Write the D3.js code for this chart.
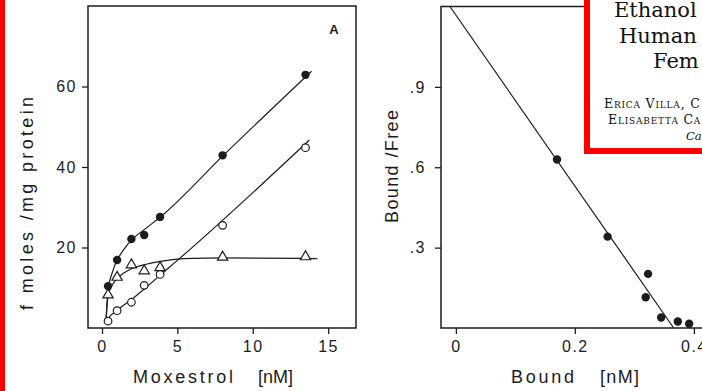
<!DOCTYPE html>
<html>
<head>
<meta charset="utf-8">
<script src="https://cdn.jsdelivr.net/npm/d3@7/dist/d3.min.js"></script>
<style>
  html, body { margin: 0; padding: 0; background: #fff; }
  svg { display: block; }
</style>
</head>
<body>
<svg id="fig" width="702" height="391"></svg>
<script>
// Panel A: moxestrol binding (fmol/mg protein) vs free moxestrol concentration
const moxestrolNM   = [0.4, 1.0, 1.95, 2.8, 3.85, 8.0, 13.5];
const totalBound    = [10.4, 16.9, 22.1, 23.1, 27.6, 42.9, 62.9];
const nonspecific   = [1.7, 4.3, 6.4, 10.6, 13.3, 25.5, 44.8];
const specific      = [8.2, 12.6, 15.7, 14.2, 15.0, 17.6, 17.7];

// hand-drawn fitted curves through panel A
const totalCurveX   = [0.27, 0.4, 0.7, 1.0, 1.5, 2.0, 3.0, 4.0, 8.0, 13.9];
const totalCurveY   = [2.0, 9.5, 14.0, 16.8, 19.8, 22.0, 25.0, 28.0, 42.7, 63.8];
const nonspecCurveX = [0.27, 0.4, 1.0, 2.0, 3.0, 4.0, 5.0, 13.76];
const nonspecCurveY = [1.0, 2.2, 4.4, 7.2, 10.3, 13.6, 16.8, 46.7];
const specCurveX    = [0.27, 0.4, 0.7, 1.0, 1.5, 2.0, 3.0, 4.0, 5.0, 6.0, 8.0, 13.5, 14.3];
const specCurveY    = [2.0, 8.0, 10.8, 12.3, 13.8, 14.8, 15.9, 16.6, 17.1, 17.3, 17.4, 17.3, 17.2];

const ticksAX = [0, 5, 10, 15];
const ticksAY = [20, 40, 60];

// Scatchard plot: bound/free vs bound
const boundNM       = [0.170, 0.255, 0.323, 0.319, 0.345, 0.373, 0.392];
const boundFree     = [0.629, 0.341, 0.202, 0.115, 0.039, 0.024, 0.016];
const scatFitX      = [-0.01, 0.366];
const scatFitY      = [1.2, 0.0];

const ticksBX = [0, 0.2, 0.4];
const ticksBY = [0.3, 0.6, 0.9];

const ink = "#1c1c1c";
const svg = d3.select("#fig");

svg.append("rect").attr("width", 702).attr("height", 391).attr("fill", "#fff");

// ---------- panel A ----------
const xA = d3.scaleLinear().domain([-0.93, 16.85]).range([88, 356]);
const yA = d3.scaleLinear().domain([0, 80]).range([328, 6]);

function styleAxis(g) {
  g.select(".domain").remove();
  g.selectAll(".tick line").attr("stroke", ink).attr("stroke-width", 1.3);
  g.selectAll(".tick text")
    .attr("fill", ink)
    .attr("font-family", "Liberation Sans, Arial, sans-serif")
    .attr("font-size", 16)
    .attr("letter-spacing", "1.5px");
}

const pA = svg.append("g");

pA.append("g")
  .attr("transform", `translate(0,${yA.range()[0]})`)
  .call(d3.axisBottom(xA).tickValues(ticksAX).tickSize(6).tickPadding(7).tickFormat(d3.format("d")))
  .call(styleAxis);

pA.append("g")
  .attr("transform", `translate(${xA.range()[0]},0)`)
  .call(d3.axisLeft(yA).tickValues(ticksAY).tickSize(6).tickPadding(5).tickFormat(d3.format("d")))
  .call(styleAxis);

// frame
pA.append("rect")
  .attr("x", xA.range()[0]).attr("y", yA.range()[1])
  .attr("width", xA.range()[1] - xA.range()[0])
  .attr("height", yA.range()[0] - yA.range()[1])
  .attr("fill", "none").attr("stroke", ink).attr("stroke-width", 1.5);

const lineA = d3.line().x(d => xA(d[0])).y(d => yA(d[1])).curve(d3.curveMonotoneX);
[[totalCurveX, totalCurveY], [nonspecCurveX, nonspecCurveY], [specCurveX, specCurveY]].forEach(([xs, ys]) => {
  pA.append("path")
    .attr("d", lineA(d3.zip(xs, ys)))
    .attr("fill", "none").attr("stroke", ink).attr("stroke-width", 1.2);
});

const ptsTotal = d3.zip(moxestrolNM, totalBound);
const ptsNon   = d3.zip(moxestrolNM, nonspecific);
const ptsSpec  = d3.zip(moxestrolNM, specific);

pA.selectAll(".tri").data(ptsSpec).join("path")
  .attr("transform", d => `translate(${xA(d[0])},${yA(d[1])})`)
  .attr("d", d3.symbol(d3.symbolTriangle, 46))
  .attr("fill", "#fff").attr("stroke", ink).attr("stroke-width", 1.2);

pA.selectAll(".open").data(ptsNon).join("circle")
  .attr("cx", d => xA(d[0])).attr("cy", d => yA(d[1])).attr("r", 3.8)
  .attr("fill", "#fff").attr("stroke", ink).attr("stroke-width", 1.2);

pA.selectAll(".filled").data(ptsTotal).join("circle")
  .attr("cx", d => xA(d[0])).attr("cy", d => yA(d[1])).attr("r", 4.2)
  .attr("fill", ink);

pA.append("text").text("A")
  .attr("x", 334).attr("y", 34).attr("text-anchor", "middle")
  .attr("font-family", "Liberation Sans, Arial, sans-serif")
  .attr("font-weight", "bold").attr("font-size", 13).attr("fill", ink);

const labelFont = "Liberation Sans, Arial, sans-serif";
pA.append("text").text("Moxestrol")
  .attr("x", 133).attr("y", 383).attr("textLength", 100).attr("lengthAdjust", "spacing")
  .attr("font-family", labelFont).attr("font-size", 18).attr("fill", ink);
pA.append("text").text("[nM]")
  .attr("x", 258).attr("y", 383).attr("textLength", 35).attr("lengthAdjust", "spacing")
  .attr("font-family", labelFont).attr("font-size", 18).attr("fill", ink);
pA.append("text").text("f moles /mg protein")
  .attr("transform", "translate(33,310) rotate(-90)")
  .attr("textLength", 213).attr("lengthAdjust", "spacing")
  .attr("font-family", labelFont).attr("font-size", 18).attr("fill", ink);

// ---------- Scatchard panel ----------
const xB = d3.scaleLinear().domain([-0.025, 0.5]).range([441, 753.4]);
const yB = d3.scaleLinear().domain([0, 1.2]).range([328, 6.5]);

const pB = svg.append("g");

pB.append("g")
  .attr("transform", `translate(0,${yB.range()[0]})`)
  .call(d3.axisBottom(xB).tickValues(ticksBX).tickSize(6).tickPadding(7).tickFormat(d => d === 0 ? "0" : d3.format(".1f")(d)))
  .call(styleAxis);

pB.append("g")
  .attr("transform", `translate(${xB.range()[0]},0)`)
  .call(d3.axisLeft(yB).tickValues(ticksBY).tickSize(6).tickPadding(9).tickFormat(d => d3.format(".1f")(d).replace(/^0/, "")))
  .call(styleAxis);

pB.append("path")
  .attr("d", `M${xB.range()[1]},${yB.range()[1]}H${xB.range()[0]}V${yB.range()[0]}H${xB.range()[1]}`)
  .attr("fill", "none").attr("stroke", ink).attr("stroke-width", 1.5);

pB.append("path")
  .attr("d", d3.line().x(d => xB(d[0])).y(d => yB(d[1]))(d3.zip(scatFitX, scatFitY)))
  .attr("fill", "none").attr("stroke", ink).attr("stroke-width", 1.2);

pB.selectAll(".sp").data(d3.zip(boundNM, boundFree)).join("circle")
  .attr("cx", d => xB(d[0])).attr("cy", d => yB(d[1])).attr("r", 4.2)
  .attr("fill", ink);

pB.append("text").text("Bound")
  .attr("x", 511).attr("y", 383).attr("textLength", 63).attr("lengthAdjust", "spacing")
  .attr("font-family", labelFont).attr("font-size", 18).attr("fill", ink);
pB.append("text").text("[nM]")
  .attr("x", 600).attr("y", 383).attr("textLength", 39).attr("lengthAdjust", "spacing")
  .attr("font-family", labelFont).attr("font-size", 18).attr("fill", ink);
pB.append("text").text("Bound /Free")
  .attr("transform", "translate(398,223) rotate(-90)")
  .attr("textLength", 113).attr("lengthAdjust", "spacing")
  .attr("font-family", labelFont).attr("font-size", 18).attr("fill", ink);

// ---------- article header box ----------
const hdr = svg.append("g");
hdr.append("rect")
  .attr("x", 587).attr("y", -10).attr("width", 200).attr("height", 161)
  .attr("fill", "#fff").attr("stroke", "#ff0000").attr("stroke-width", 6);

const serif = "DejaVu Serif, Liberation Serif, serif";
[["Ethanol", 614, 17], ["Human", 619, 42.5], ["Fem", 653, 68]].forEach(([t, x, y]) => {
  hdr.append("text").text(t).attr("x", x).attr("y", y)
    .attr("font-family", serif).attr("font-size", 21).attr("fill", "#111");
});
[["Erica Villa, C", 604, 108], ["Elisabetta Ca", 608, 123.5]].forEach(([t, x, y]) => {
  hdr.append("text").text(t).attr("x", x).attr("y", y)
    .attr("font-family", serif).attr("font-size", 12.5)
    .style("font-variant", "small-caps")
    .attr("letter-spacing", "0.8px").attr("fill", "#111");
});
hdr.append("text").text("Ca").attr("x", 686).attr("y", 140)
  .attr("font-family", serif).attr("font-size", 11.5).attr("font-style", "italic").attr("fill", "#111");

// red margin strip
svg.append("rect").attr("x", 0).attr("y", 0).attr("width", 5).attr("height", 391).attr("fill", "#ff0000");
</script>
</body>
</html>
